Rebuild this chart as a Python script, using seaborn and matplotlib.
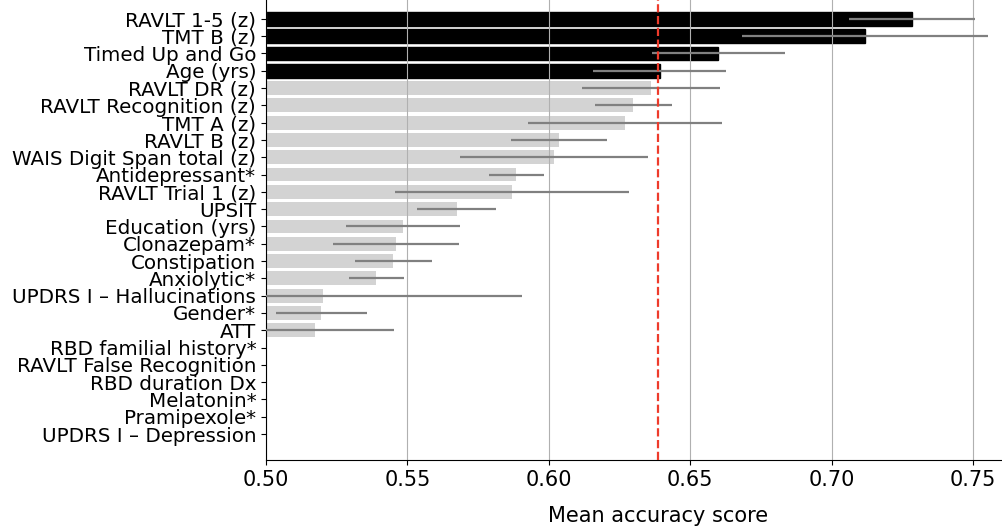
import matplotlib
matplotlib.use("Agg")
import matplotlib.pyplot as plt
import seaborn as sns
import numpy as np
import pandas as pd

features = [
    "RAVLT 1-5 (z)", "TMT B (z)", "Timed Up and Go", "Age (yrs)", "RAVLT DR (z)",
    "RAVLT Recognition (z)", "TMT A (z)", "RAVLT B (z)", "WAIS Digit Span total (z)",
    "Antidepressant*", "RAVLT Trial 1 (z)", "UPSIT", "Education (yrs)", "Clonazepam*",
    "Constipation", "Anxiolytic*", "UPDRS I \u2013 Hallucinations", "Gender*", "ATT",
    "RBD familial history*", "RAVLT False Recognition", "RBD duration Dx", "Melatonin*",
    "Pramipexole*", "UPDRS I \u2013 Depression",
]
mean_acc = [
    0.7284, 0.7118, 0.6600, 0.6392, 0.6361,
    0.6299, 0.6269, 0.6036, 0.6019,
    0.5885, 0.5870, 0.5675, 0.5485, 0.5460,
    0.5451, 0.5391, 0.5203, 0.5196, 0.5175,
    0.4900, 0.4850, 0.4800, 0.4750,
    0.4700, 0.4650,
]
err = [
    0.0222, 0.0435, 0.0235, 0.0235, 0.0243,
    0.0136, 0.0342, 0.0170, 0.0333,
    0.0097, 0.0413, 0.0140, 0.0202, 0.0224,
    0.0137, 0.0096, 0.0704, 0.0161, 0.0277,
    0.0050, 0.0050, 0.0050, 0.0050,
    0.0050, 0.0050,
]
baseline = 0.6385

df = pd.DataFrame({"feature": features, "acc": mean_acc, "err": err})
colors = ["black" if v > baseline else "lightgray" for v in mean_acc]

fig = plt.figure(figsize=(10.03, 5.32), dpi=100)
ax = fig.add_axes([0.2651, 0.1353, 0.782, 0.878])

sns.barplot(data=df, x="acc", y="feature", hue="feature", palette=colors,
            legend=False, orient="h", width=0.8, ax=ax, saturation=1)
for p, c in zip(ax.patches, colors):
    if c == "black":
        p.set_edgecolor("black")
        p.set_linewidth(1.0)

ax.errorbar(df["acc"], np.arange(len(df)), xerr=df["err"], fmt="none",
            ecolor="gray", elinewidth=1.6, capsize=0, zorder=3)
ax.axvline(baseline, color="#ee3b2b", linestyle="--", linewidth=1.6, zorder=4)

ax.set_xlim(0.5, 0.7773)
ax.set_ylim(25.5, -1.5)
ax.set_xticks([0.50, 0.55, 0.60, 0.65, 0.70, 0.75])
ax.set_xticklabels(["0.50", "0.55", "0.60", "0.65", "0.70", "0.75"])
ax.grid(axis="x", color="#b0b0b0", linewidth=0.8)
ax.grid(axis="y", visible=False)
ax.set_axisbelow("line")
ax.tick_params(axis="x", labelsize=15)
ax.tick_params(axis="y", labelsize=14.3)
ax.set_xlabel("Mean accuracy score", fontsize=15, labelpad=12)
ax.set_ylabel("")
for s in ["top", "right"]:
    ax.spines[s].set_visible(False)

fig.savefig("out.png", dpi=100)
